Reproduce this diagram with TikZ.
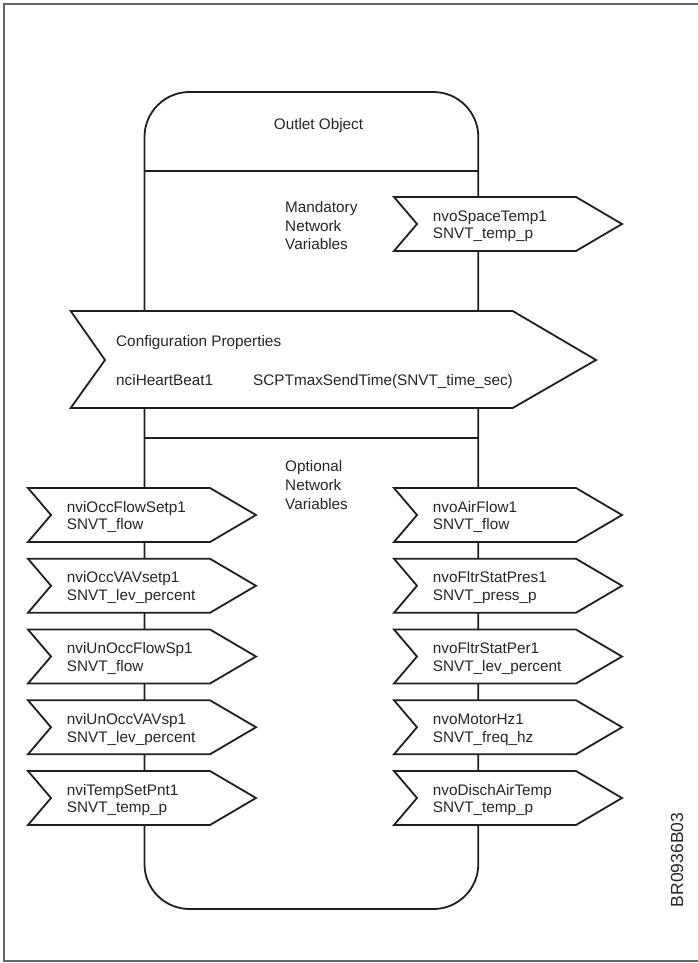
\documentclass[tikz,border=0pt]{standalone}
\usepackage{fontspec}
\setmainfont{Liberation Sans}
\newcommand\nvarrow[5]{%
  \draw[ln, fill=white] (#2,#3-27) -- ++(182,0) -- ++(46,27) -- ++(-46,27) -- ++(-182,0) -- ++(23,-27) -- cycle;
  \node[lbl] (#1a) at (#2+38.7,#3-2.8) {#4};
  \node[lbl] (#1b) at (#2+38.7,#3+14.8) {#5};
}
\begin{document}
\begin{tikzpicture}[x=1pt,y=-1pt,
  ln/.style={draw=black!88, line width=1.8pt, line join=miter},
  lbl/.style={inner sep=0pt, anchor=base west, text=black!85, font=\fontsize{15.3}{18}\selectfont}]
\useasboundingbox (0,0) rectangle (698,963);
\draw[black!60, line width=1.3pt] (698,4) -- (4,4) -- (4,961) -- (698,961);
% main object box
\node[ln, rounded corners=45pt, minimum width=333.8pt, minimum height=817pt, inner sep=0pt] (obj) at (311.4,500.5) {};
\draw[ln] (obj.west |- 0,170.7) -- (obj.east |- 0,170.7);
\draw[ln] (obj.west |- 0,438) -- (obj.east |- 0,438);
\node[lbl, anchor=base] (title) at (318.5,129.5) {Outlet Object};
% mandatory
\node[lbl] (m1) at (285,212.2) {Mandatory};
\node[lbl] (m2) at (285,231.2) {Network};
\node[lbl] (m3) at (285,249.8) {Variables};
\nvarrow{sp}{394}{224}{nvoSpaceTemp1}{SNVT\_temp\_p}
% configuration properties
\draw[ln, fill=white] (70.7,311) -- (512.7,311) -- (596,360) -- (512.7,408) -- (70.7,408) -- (105,360) -- cycle;
\node[lbl] (cp) at (116,346.2) {Configuration Properties};
\node[lbl] (hb) at (116,385.3) {nciHeartBeat1};
\node[lbl] (st) at (253,385.3) {SCPTmaxSendTime(SNVT\_time\_sec)};
% optional
\node[lbl] (o1) at (285,471.5) {Optional};
\node[lbl] (o2) at (285,490.5) {Network};
\node[lbl] (o3) at (285,509) {Variables};
\nvarrow{la}{28}{515}{nviOccFlowSetp1}{SNVT\_flow}
\nvarrow{lb}{28}{585.75}{nviOccVAVsetp1}{SNVT\_lev\_percent}
\nvarrow{lc}{28}{656.5}{nviUnOccFlowSp1}{SNVT\_flow}
\nvarrow{ld}{28}{727.25}{nviUnOccVAVsp1}{SNVT\_lev\_percent}
\nvarrow{le}{28}{798}{nviTempSetPnt1}{SNVT\_temp\_p}
\nvarrow{ra}{394}{515}{nvoAirFlow1}{SNVT\_flow}
\nvarrow{rb}{394}{585.75}{nvoFltrStatPres1}{SNVT\_press\_p}
\nvarrow{rc}{394}{656.5}{nvoFltrStatPer1}{SNVT\_lev\_percent}
\nvarrow{rd}{394}{727.25}{nvoMotorHz1}{SNVT\_freq\_hz}
\nvarrow{re}{394}{798}{nvoDischAirTemp}{SNVT\_temp\_p}
\node[text=black!85, font=\fontsize{17.5}{20}\selectfont, rotate=90, inner sep=0pt] (code) at (677,860) {BR0936B03};
\end{tikzpicture}
\end{document}
